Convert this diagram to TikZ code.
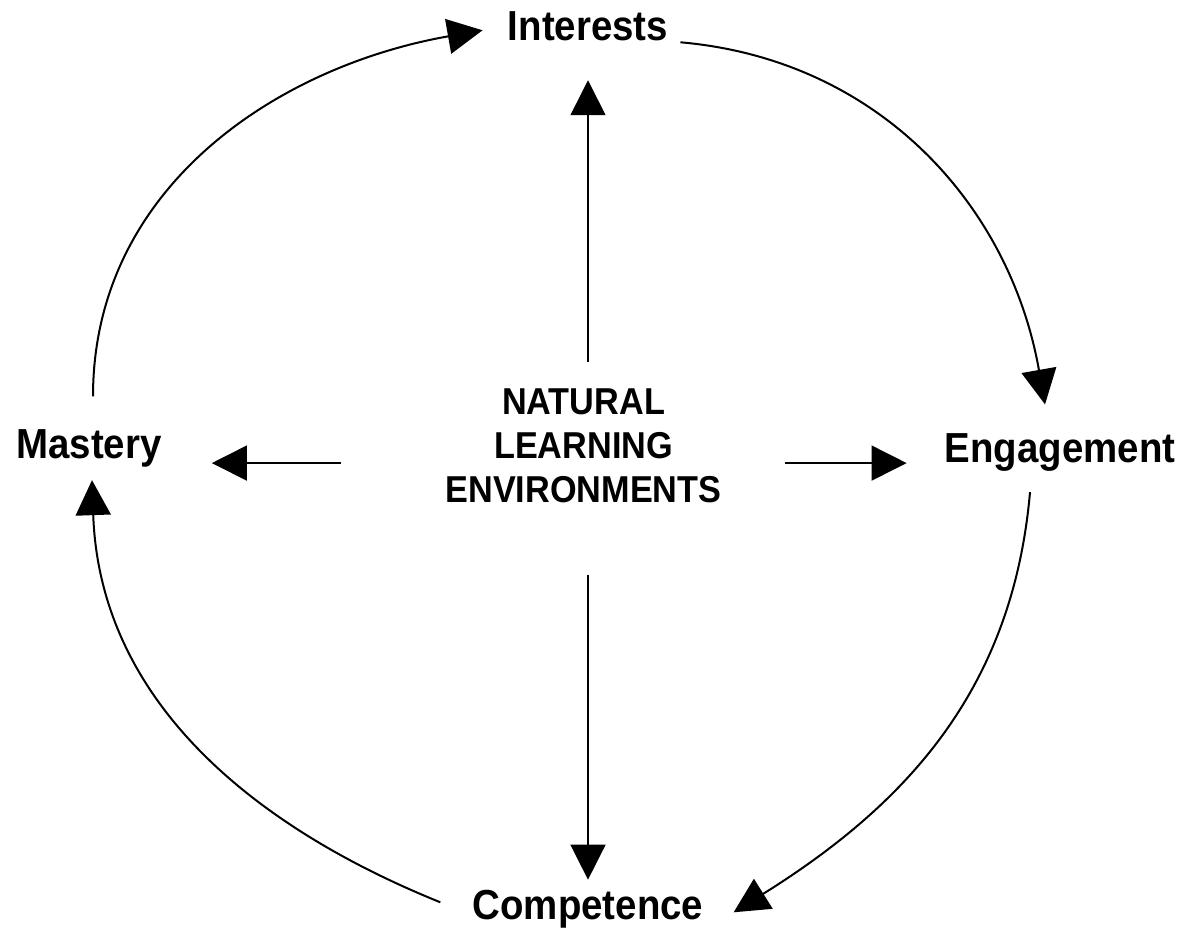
\documentclass[tikz,border=0pt]{standalone}
\usepackage{fontspec}
\setmainfont{Liberation Sans}[FakeStretch=0.915]
\usetikzlibrary{arrows.meta,positioning}

\begin{document}
\begin{tikzpicture}[x=0.02cm,y=-0.02cm]
    \tikzstyle{stage} = [font=\fontsize{23.9}{26}\selectfont\bfseries, inner sep=0pt, text height=17.2pt, text depth=5pt, anchor=base];
    \tikzstyle{hub} = [font=\fontsize{21.3}{25}\selectfont\bfseries, inner sep=0pt, align=center];
    \tikzstyle{spoke} = [-{Triangle[length=7mm,width=7mm]}, line width=0.3mm];
    \tikzstyle{loopedge} = [-{Triangle[length=7mm,width=7mm]}, line width=0.4mm];

    \useasboundingbox (0,0) rectangle (1185,930);

    \node[hub](nle) at (583.5,445.5) {NATURAL\\LEARNING\\ENVIRONMENTS};
    \node[stage](int) at (588,40) {Interests};
    \node[stage](eng) at (1060,462) {Engagement};
    \node[stage](com) at (588,919) {Competence};
    \node[stage](mas) at (89,458) {Mastery};

    % spokes out of the centre
    \draw[spoke, shorten <=14.7pt, shorten >=17.7pt] (nle.north -| int.south) -- (int.south);
    \draw[spoke, shorten <=40.8pt, shorten >=5pt] (nle.south -| com.north) -- (com.north);
    \draw[spoke, shorten <=35.7pt, shorten >=21.5pt] ([yshift=-10pt]nle.east) -- ([yshift=-10pt]nle.east -| eng.west);
    \draw[spoke, shorten <=59.5pt, shorten >=28.4pt] ([yshift=-10pt]nle.west) -- ([yshift=-10pt]nle.west -| mas.east);

    % the cycle
    \draw[loopedge] ([shift={(12,13)}]int.east) to[out=-5, in=100] ([shift={(-15,-27)}]eng.north);
    \draw[loopedge] ([shift={(-30,21)}]eng.south) to[out=-95, in=32] ([shift={(30,4)}]com.east);
    \draw[loopedge] ([shift={(-32,-6)}]com.west) to[out=158, in=-88] ([shift={(3,13)}]mas.south);
    \draw[loopedge] ([shift={(4,-31)}]mas.north) to[out=90, in=190] ([shift={(-25,1)}]int.west);
\end{tikzpicture}
\end{document}
